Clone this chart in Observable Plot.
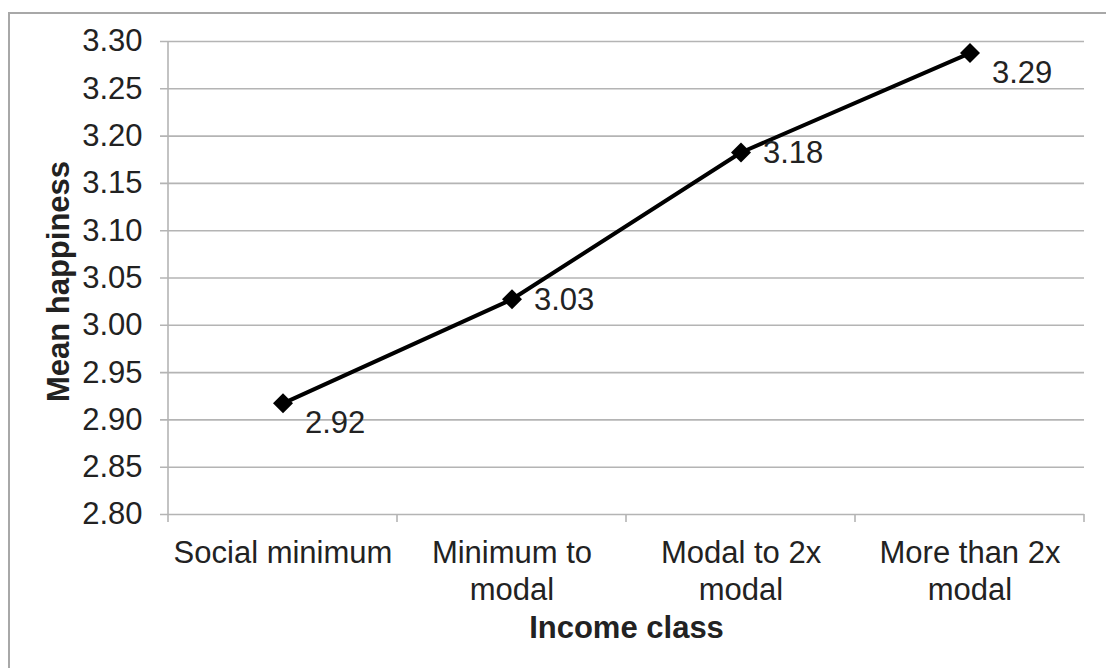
<!DOCTYPE html>
<html>
<head>
<meta charset="utf-8">
<script src="https://cdn.jsdelivr.net/npm/d3@7"></script>
<script src="https://cdn.jsdelivr.net/npm/@observablehq/plot@0.6"></script>
<style>
  html, body { margin: 0; padding: 0; background: #fff; }
  #wrap { position: relative; width: 1106px; height: 668px; overflow: hidden; }
  #border { position: absolute; left: 8px; top: 12px; width: 1200px; height: 800px;
            border-left: 2px solid #a8a8a8; border-top: 2px solid #a8a8a8; pointer-events: none; }
</style>
</head>
<body>
<div id="wrap"><div id="chart"></div><div id="border"></div></div>
<script>
const categories = ["Social minimum", "Minimum to modal", "Modal to 2x modal", "More than 2x modal"];
const tickLabels = ["Social minimum", "Minimum to\nmodal", "Modal to 2x\nmodal", "More than 2x\nmodal"];
const values = [2.9175, 3.0275, 3.1827, 3.2878];
const valueLabels = ["2.92", "3.03", "3.18", "3.29"];
const yTicks = [2.80, 2.85, 2.90, 2.95, 3.00, 3.05, 3.10, 3.15, 3.20, 3.25, 3.30];
const yTitle = "Mean happiness";
const xTitle = "Income class";

const data = categories.map((c, i) => ({cat: c, value: values[i], label: valueLabels[i], i}));
const gridColor = "#b4b4b4";
const textColor = "#222";
const font = "'Liberation Sans', Arial, sans-serif";

const plot = Plot.plot({
  width: 1106,
  height: 668,
  marginLeft: 168,
  marginRight: 22,
  marginTop: 41,
  marginBottom: 154,
  style: {fontFamily: font, background: "transparent", color: textColor, overflow: "visible"},
  x: {type: "band", domain: categories, padding: 0},
  y: {domain: [2.8, 3.3]},
  marks: [
    Plot.ruleY(yTicks, {y: d => d, stroke: gridColor, strokeWidth: 1.6, insetLeft: -8}),
    Plot.axisY(yTicks, {tickSize: 0, tickPadding: 26, tickFormat: d => d.toFixed(2), fontSize: 31, fill: textColor, label: null}),
    Plot.axisX(categories, {tickSize: 0, tickPadding: 22, tickFormat: d => tickLabels[categories.indexOf(d)], fontSize: 31, lineHeight: 1.2, fill: textColor, label: null}),
    Plot.line(data, {x: "cat", y: "value", stroke: "#000", strokeWidth: 4}),
    Plot.dot(data, {x: "cat", y: "value", symbol: "diamond2", r: 9, fill: "#000", stroke: "none"}),
    Plot.text(data.filter(d => d.i === 0 || d.i === 3), {x: "cat", y: "value", text: "label", textAnchor: "start", dx: 22, dy: 20, fontSize: 31, fill: textColor}),
    Plot.text(data.filter(d => d.i === 1 || d.i === 2), {x: "cat", y: "value", text: "label", textAnchor: "start", dx: 22, dy: 1, fontSize: 31, fill: textColor}),
    Plot.text([yTitle], {frameAnchor: "left", textAnchor: "middle", lineAnchor: "middle", rotate: -90, dx: -109, dy: 3.5, fontSize: 31, fontWeight: "bold", fill: textColor}),
    Plot.text([xTitle], {frameAnchor: "bottom", textAnchor: "middle", lineAnchor: "middle", dy: 114, fontSize: 31, fontWeight: "bold", fill: textColor})
  ]
});

// category boundary ticks and left axis line, from the band scale
const xs = plot.scale("x");
const ys = plot.scale("y");
const bw = xs.bandwidth;
const yBottom = ys.apply(2.8), yTop = ys.apply(3.3);
const svg = d3.select(plot);
const g = svg.append("g").attr("stroke", gridColor).attr("stroke-width", 1.6);
const bounds = categories.map(c => xs.apply(c)).concat([xs.apply(categories[categories.length - 1]) + bw]);
bounds.forEach((bx, k) => {
  g.append("line").attr("x1", bx).attr("x2", bx)
    .attr("y1", k === 0 ? yTop : yBottom).attr("y2", yBottom + 8);
});
document.getElementById("chart").appendChild(plot);
</script>
</body>
</html>
